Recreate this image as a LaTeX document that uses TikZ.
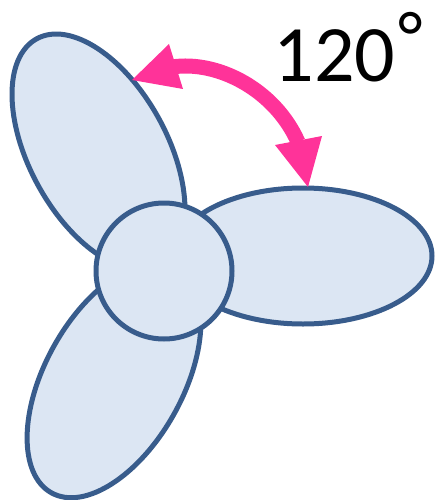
\documentclass[tikz,border=0pt]{standalone}
\usepackage{fontspec}
\setmainfont{Carlito}
\usepackage{xcolor}
\definecolor{bladefill}{RGB}{220,230,243}
\definecolor{bladeline}{RGB}{56,92,140}
\definecolor{arcpink}{RGB}{255,51,153}
\tikzset{
  blade/.style={draw=bladeline,fill=bladefill,line width=5pt},
}
\begin{document}
\begin{tikzpicture}[x=1pt,y=-1pt]
        \useasboundingbox (0,0) rectangle (434,500);

        % blades
        \draw[blade] (303,256) ellipse [x radius=129,y radius=68];
        \draw[blade,rotate around={-61.4:(98.5,152)}] (98.5,152) ellipse [x radius=129,y radius=69];
        \draw[blade,rotate around={61:(114,380)}] (114,380) ellipse [x radius=129,y radius=69];

        % hub
        \draw[blade] (164,271) circle (68);

        % arc
        \draw[arcpink,line width=15pt] (172,67) .. controls (218,60) and (275,90) .. (298,142);
        \fill[arcpink] (132,80) -- (169,44) -- (183,89) -- cycle;
        \fill[arcpink] (308,187) -- (275,145) -- (322,136) -- cycle;

        % label
        \node (angle) at (348,47) {\fontsize{80}{80}\selectfont 120\kern3pt\raisebox{20pt}{\fontsize{72}{72}\selectfont °}};
\end{tikzpicture}
\end{document}
